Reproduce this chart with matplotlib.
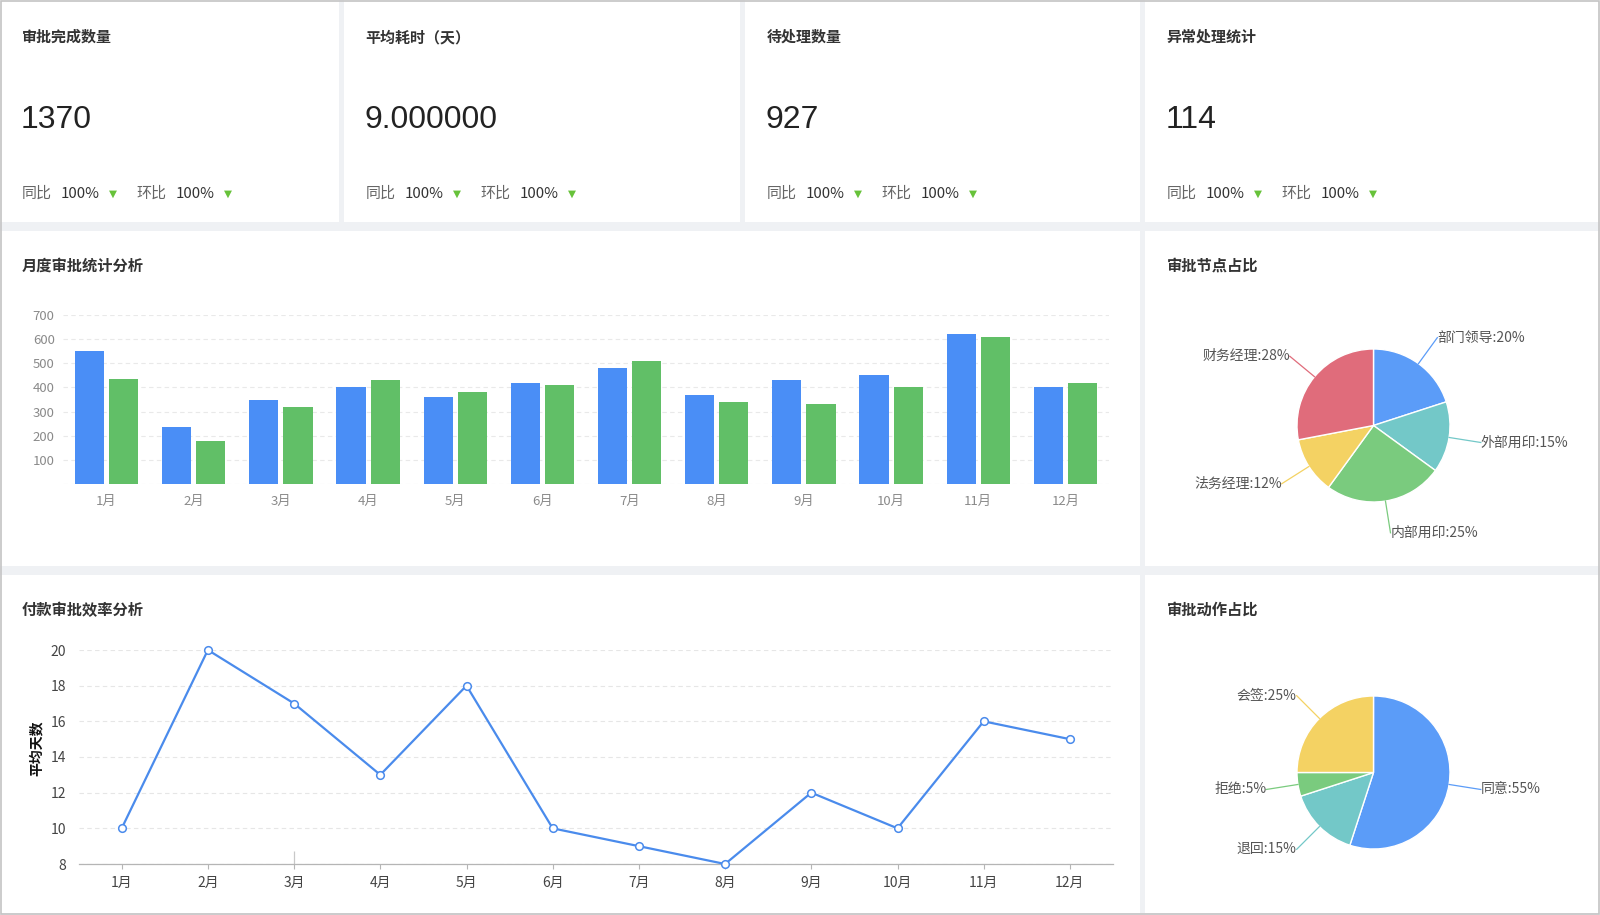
import matplotlib
matplotlib.use("Agg")
import matplotlib.pyplot as plt
from matplotlib.patches import Rectangle
import numpy as np

plt.rcParams['font.family'] = ['Noto Sans CJK SC', 'DejaVu Sans']

# ---------------- data ----------------
card_titles = ['审批完成数量', '平均耗时（天）', '待处理数量', '异常处理统计']
card_values = ['1370', '9.000000', '927', '114']
card_yoy = ['100%', '100%', '100%', '100%']
card_mom = ['100%', '100%', '100%', '100%']

months = ['1月', '2月', '3月', '4月', '5月', '6月', '7月', '8月', '9月', '10月', '11月', '12月']
bar_blue = [550, 235, 350, 400, 360, 420, 480, 370, 430, 450, 620, 400]
bar_green = [435, 180, 320, 430, 380, 410, 510, 340, 330, 400, 610, 420]
bar_yticks = [0, 100, 200, 300, 400, 500, 600, 700]

line_days = [10, 20, 17, 13, 18, 10, 9, 8, 12, 10, 16, 15]
line_yticks = [8, 10, 12, 14, 16, 18, 20]

node_labels = ['部门领导', '外部用印', '内部用印', '法务经理', '财务经理']
node_values = [20, 15, 25, 12, 28]
action_labels = ['同意', '退回', '拒绝', '会签']
action_values = [55, 15, 5, 25]

# ---------------- styling ----------------
W, H = 1600, 915
BG = '#eff1f4'
BLUE = '#4a8ef6'
GREEN = '#61bf67'
node_colors = ['#5b9cf8', '#73c8c8', '#7acb7e', '#f4d263', '#e06c7b']
action_colors = ['#5b9cf8', '#73c8c8', '#7acb7e', '#f4d263']

fig = plt.figure(figsize=(W / 100, H / 100), dpi=100)
fig.patch.set_facecolor(BG)


def fx(x):
    return x / W


def fy(y):
    return 1 - y / H


def panel(x0, y0, x1, y1):
    fig.add_artist(Rectangle((fx(x0), fy(y1)), (x1 - x0) / W, (y1 - y0) / H,
                             transform=fig.transFigure, facecolor='white',
                             edgecolor='none', zorder=0))


def axes_px(x0, y0, x1, y1):
    return fig.add_axes([fx(x0), fy(y1), (x1 - x0) / W, (y1 - y0) / H])


# panels
cards = [(0, 0, 339, 222), (344, 0, 740, 222), (745, 0, 1140, 222), (1145, 0, 1600, 222)]
for c in cards:
    panel(*c)
panel(0, 231, 1140, 566)
panel(1145, 231, 1600, 566)
panel(0, 575, 1140, 913)
panel(1145, 575, 1600, 913)

# outer border
fig.add_artist(Rectangle((0.0005, 0.0008), 0.999, 0.9985, transform=fig.transFigure,
                         facecolor='none', edgecolor='#c4c4c4', lw=1.2, zorder=5))

# ---------------- cards ----------------
for i, (x0, y0, x1, y1) in enumerate(cards):
    tx = x0 + 21.5
    fig.text(fx(tx), fy(37), card_titles[i], fontsize=10.8, fontweight='bold',
             color='#333333', ha='left', va='center')
    fig.text(fx(tx - 1), fy(127.5), card_values[i], fontsize=23, color='#222222',
             ha='left', va='baseline', family=['Liberation Sans', 'DejaVu Sans'])
    fig.text(fx(tx), fy(194), '同比', fontsize=10.8, color='#666666', ha='left', va='center')
    fig.text(fx(tx + 39), fy(194), card_yoy[i], fontsize=10.8, color='#333333', ha='left', va='center')
    fig.text(fx(tx + 91), fy(194), '▼', fontsize=7.5, color='#67c23a', ha='center', va='center',
             family=['DejaVu Sans'])
    fig.text(fx(tx + 115), fy(194), '环比', fontsize=10.8, color='#666666', ha='left', va='center')
    fig.text(fx(tx + 154), fy(194), card_mom[i], fontsize=10.8, color='#333333', ha='left', va='center')
    fig.text(fx(tx + 206), fy(194), '▼', fontsize=7.5, color='#67c23a', ha='center', va='center',
             family=['DejaVu Sans'])

# ---------------- titles ----------------
fig.text(fx(21.5), fy(266), '月度审批统计分析', fontsize=11, fontweight='bold', color='#333333', va='center')
fig.text(fx(1167), fy(266), '审批节点占比', fontsize=11, fontweight='bold', color='#333333', va='center')
fig.text(fx(21.5), fy(610), '付款审批效率分析', fontsize=11, fontweight='bold', color='#333333', va='center')
fig.text(fx(1167), fy(610), '审批动作占比', fontsize=11, fontweight='bold', color='#333333', va='center')

# ---------------- bar chart ----------------
ax1 = axes_px(63, 315, 1109, 484)
x = np.arange(len(months))
ax1.bar(x - 0.196, bar_blue, width=0.335, color=BLUE, zorder=3)
ax1.bar(x + 0.196, bar_green, width=0.335, color=GREEN, zorder=3)
ax1.set_xlim(-0.5, len(months) - 0.5)
ax1.set_ylim(0, 700)
ax1.set_yticks(bar_yticks)
ax1.set_yticklabels(['' if v == 0 else str(v) for v in bar_yticks])
ax1.set_xticks(x)
ax1.set_xticklabels(months)
ax1.grid(axis='y', linestyle=(0, (4, 3)), color='#e9e9e9', lw=0.8, zorder=0)
for s in ax1.spines.values():
    s.set_visible(False)
ax1.tick_params(axis='both', length=0, labelsize=9.5, colors='#8a8a8a')
ax1.tick_params(axis='y', pad=6)
ax1.tick_params(axis='x', pad=8)
ax1.set_facecolor('none')

# ---------------- line chart ----------------
ax2 = axes_px(78.6, 650, 1113, 864)
ax2.plot(x, line_days, color='#4a8bec', lw=1.6, marker='o', markersize=5.5,
         markerfacecolor='white', markeredgecolor='#4a8bec', markeredgewidth=1.1,
         zorder=4, clip_on=False)
ax2.set_xlim(-0.5, len(months) - 0.5)
ax2.set_ylim(8, 20)
ax2.set_yticks(line_yticks)
ax2.set_xticks(x)
ax2.set_xticklabels(months)
ax2.grid(axis='y', linestyle=(0, (4, 3)), color='#e6e6e6', lw=0.8, zorder=0)
for k, s in ax2.spines.items():
    s.set_visible(k == 'bottom')
ax2.spines['bottom'].set_color('#b5b5b5')
ax2.spines['bottom'].set_linewidth(0.9)
ax2.tick_params(axis='y', length=0, labelsize=10, colors='#444444', pad=9)
ax2.tick_params(axis='x', length=3.5, width=0.8, color='#b5b5b5', labelsize=10,
                labelcolor='#444444', pad=5)
ax2.vlines(months.index('3月'), 8, 8.75, color='#c8c8c8', lw=0.9, zorder=2)
ax2.set_facecolor('none')
fig.text(fx(37), fy(748), '平均天数', rotation=90, fontsize=10, fontweight='bold',
         color='#111111', ha='center', va='center')


# ---------------- pies ----------------
def draw_pie(cx, cy, labels, values, colors):
    half = 150
    ax = axes_px(cx - half, cy - half, cx + half, cy + half)
    r = 76.5
    ax.pie(values, radius=r, startangle=90, counterclock=False, colors=colors,
           wedgeprops=dict(edgecolor='white', linewidth=1.0))
    ax.set_xlim(-half, half)
    ax.set_ylim(-half, half)
    ax.set_aspect('auto')
    total = float(sum(values))
    cum = 0.0
    for lab, v, c in zip(labels, values, colors):
        mid = np.deg2rad(90 - 360 * (cum + v / 2) / total)
        cum += v
        dx, dy = np.cos(mid), np.sin(mid)
        p0 = (r * 1.0 * dx, r * 1.0 * dy)
        p1 = (r * 1.42 * dx, r * 1.42 * dy)
        ax.plot([p0[0], p1[0]], [p0[1], p1[1]], color=c, lw=0.9, clip_on=False)
        ha = 'left' if dx > 0 else 'right'
        ax.text(p1[0], p1[1], f'{lab}:{int(v)}%', ha=ha, va='center', fontsize=10,
                color='#555555', clip_on=False)
    return ax


draw_pie(1373.5, 425.5, node_labels, node_values, node_colors)
draw_pie(1373.5, 772.5, action_labels, action_values, action_colors)

fig.savefig('out.png', dpi=100, facecolor=fig.get_facecolor())
